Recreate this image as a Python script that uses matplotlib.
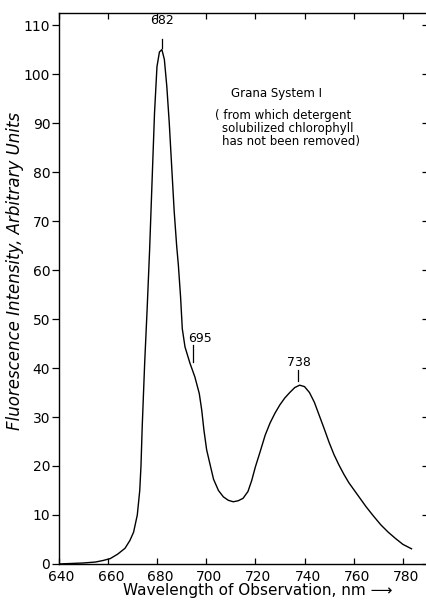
import numpy as np
import matplotlib
matplotlib.use('Agg')
import matplotlib.pyplot as plt
from matplotlib.transforms import ScaledTranslation

# fluorescence emission spectrum, Grana System I
wavelength = [640, 645, 650, 655, 658, 661, 664, 667, 669, 670.5, 672, 673, 673.5,
              674, 675, 676, 677, 678, 679, 680, 681, 682, 683, 684, 685, 686, 687,
              688, 688.7, 689.6, 690.3, 691.4, 693.4, 695.4, 697.2, 698.2, 699.1,
              700.2, 701.5, 703, 705, 707, 709, 711, 713, 715, 717, 718.5, 720, 722,
              724, 726, 728, 730, 732, 734, 736, 738, 740, 742, 744, 746, 748, 750,
              752, 754, 756, 758, 760, 762, 765, 768, 771, 774, 777, 780, 783.5]
intensity = [0.0, 0.1, 0.2, 0.4, 0.7, 1.1, 2.0, 3.2, 4.8, 6.5, 10.0, 15.0, 20.0,
             28.0, 41.0, 52.0, 64.0, 78.0, 92.0, 101.5, 104.5, 105.0, 103.0, 97.5,
             90.0, 81.0, 72.0, 65.0, 61.0, 54.5, 48.0, 44.3, 41.0, 38.2, 34.8, 31.4,
             27.3, 23.3, 20.5, 17.3, 15.0, 13.7, 13.0, 12.7, 12.9, 13.4, 14.8, 17.0,
             19.8, 23.0, 26.3, 28.8, 30.8, 32.5, 33.9, 35.0, 36.0, 36.5, 36.2, 35.0,
             33.0, 30.3, 27.6, 24.8, 22.3, 20.2, 18.3, 16.6, 15.2, 13.8, 11.7, 9.8,
             8.0, 6.5, 5.2, 4.0, 3.1]

peak_labels = ['682', '695', '738']
peak_wl = [682.2, 694.6, 737.3]
peak_mark_lo = [105.3, 41.2, 37.3]
peak_mark_hi = [107.1, 44.7, 39.6]

x_ticks = [640, 660, 680, 700, 720, 740, 760, 780]
y_ticks = [0, 10, 20, 30, 40, 50, 60, 70, 80, 90, 100, 110]

fig = plt.figure(figsize=(4.27, 6.05), dpi=100)
ax = fig.add_axes([0.1372, 0.0678, 0.864, 0.911])

ax.plot(wavelength, intensity, color='black', lw=1.0)
ax.set_xlim(640, 790)
ax.set_ylim(0, 112.5)

# peak markers and labels
text_offsets = [(0.0, 3.9), (2.9, 1.4), (0.5, 1.6)]
for lab, wl, lo, hi, (dx, dy) in zip(peak_labels, peak_wl, peak_mark_lo, peak_mark_hi, text_offsets):
    ax.plot([wl, wl], [lo, hi], color='black', lw=0.9)
    ax.text(wl + dx, hi + dy, lab, ha='center', va='center', fontsize=9)

ax.text(728.4, 96.1, 'Grana System I', ha='center', va='center', fontsize=8.5)
ax.text(703.6, 91.6, '( from which detergent', ha='left', va='center', fontsize=8.5)
ax.text(706.6, 88.9, 'solubilized chlorophyll', ha='left', va='center', fontsize=8.5)
ax.text(706.6, 86.2, 'has not been removed)', ha='left', va='center', fontsize=8.5)

# axes styling
ax.set_xticks(x_ticks)
ax.set_yticks(y_ticks)
ax.tick_params(axis='x', direction='in', top=True, length=4, width=0.9,
               labelsize=10, pad=4.5)
ax.tick_params(axis='y', direction='out', length=5, width=0.9, labelsize=10, pad=1)
ax.spines['right'].set_visible(False)
for s in ax.spines.values():
    s.set_linewidth(1.0)

# nudge x tick labels a little to the right, like the hand lettering
shift = ScaledTranslation(3 / 100, 0, fig.dpi_scale_trans)
for lbl in ax.get_xticklabels():
    lbl.set_transform(lbl.get_transform() + shift)

# right side ticks point inward
ax_r = ax.twinx()
ax_r.set_ylim(ax.get_ylim())
ax_r.set_yticks(y_ticks)
ax_r.tick_params(axis='y', direction='in', length=4, width=0.9, labelright=False)
for s in ax_r.spines.values():
    s.set_visible(False)

ax.set_xlabel('Wavelength of Observation, nm \u27f6', fontsize=11)
ax.xaxis.set_label_coords(0.54, -0.048)
ax.xaxis.label.set_va('center')
ax.set_ylabel('Fluorescence Intensity, Arbitrary Units', fontsize=12, style='italic')
ax.yaxis.set_label_coords(-0.118, 0.531)
ax.yaxis.label.set_va('center')

fig.savefig('out.png', dpi=100)
